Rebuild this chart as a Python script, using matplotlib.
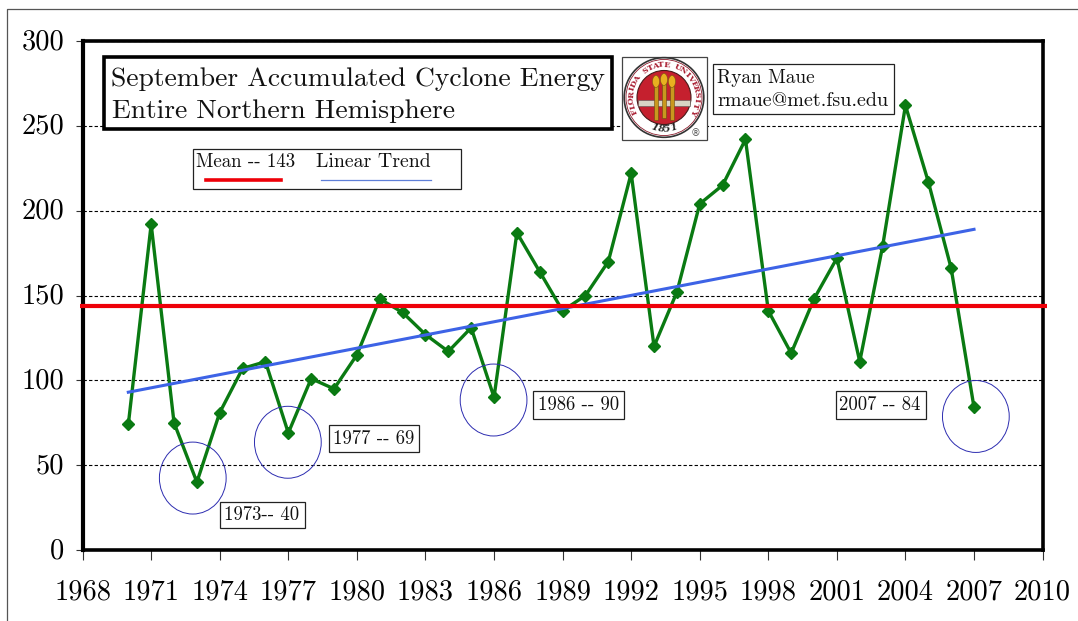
import numpy as np
import matplotlib
matplotlib.use('Agg')
import matplotlib.pyplot as plt
import matplotlib.patches as patches
from matplotlib.transforms import ScaledTranslation

plt.rcParams['font.family'] = ['cmr10', 'DejaVu Serif']
plt.rcParams['axes.unicode_minus'] = False

years = list(range(1970, 2008))
ace = [74, 192, 75, 40, 81, 107, 111, 69, 101, 95,
       115, 148, 140, 127, 117, 131, 90, 187, 164, 141,
       150, 170, 222, 120, 152, 204, 215, 242, 141, 116,
       148, 172, 111, 179, 262, 217, 166, 84]
mean_value = 143.8
trend_years = [1970, 2007]
trend_values = [93, 189]
x_ticks = list(range(1968, 2011, 3))
y_ticks = [0, 50, 100, 150, 200, 250, 300]

# circled low years: centre year, centre value
circle_years = [1972.82, 1976.98, 1985.98, 2007.08]
circle_values = [42.4, 63.5, 88.4, 78.7]

W, H = 1078, 621
fig = plt.figure(figsize=(W / 100, H / 100), dpi=100, facecolor='white')

# axes box in pixels
L, R, T, B = 82.6, 1042.6, 41, 550
ax = fig.add_axes([L / W, 1 - B / H, (R - L) / W, (B - T) / H])
ax.set_xlim(1968, 2010)
ax.set_ylim(0, 300)

ax.set_xticks(x_ticks)
ax.set_yticks(y_ticks)
ax.tick_params(axis='x', length=7, width=0.8, labelsize=20.5, pad=14, color='#333333')
ax.tick_params(axis='y', length=5, width=0.8, labelsize=20.5, pad=8, color='#333333')
# y labels sit a little high in the original
for t in ax.get_yticklabels():
    t.set_transform(t.get_transform() + ScaledTranslation(0, 2 / 100, fig.dpi_scale_trans))
for s in ax.spines.values():
    s.set_linewidth(2.6)
ax.spines['left'].set_linewidth(3)
ax.yaxis.grid(True, color='black', linestyle=(0, (3, 2)), linewidth=0.8)
ax.set_axisbelow(True)

ax.plot(years, ace, color='#0a7a12', lw=2.4, marker='D', ms=6.2, zorder=3)
ax.plot(trend_years, trend_values, color='#3d63e6', lw=2.2, zorder=4)
ax.plot([1967.9, 2010.2], [mean_value, mean_value], color='#ee0008', lw=3,
        zorder=5, clip_on=False, solid_capstyle='butt')

for cy, cv in zip(circle_years, circle_values):
    ax.add_patch(patches.Ellipse((cy, cv), 2.92, 42.4, fill=False,
                                 edgecolor='#2c2cb0', lw=0.7, zorder=6))

# overlay in pixel coordinates for the boxes and texts
ov = fig.add_axes([0, 0, 1, 1], facecolor='none')
ov.set_xlim(0, W)
ov.set_ylim(H, 0)
ov.axis('off')


def box(x0, y0, x1, y1, lw=0.9, ec='#222222'):
    ov.add_patch(patches.Rectangle((x0, y0), x1 - x0, y1 - y0, fc='white', ec=ec, lw=lw, zorder=7))


def label(x, y, s, size):
    ov.text(x, y, s, fontsize=size, ha='left', va='center', color='#111111', zorder=8)


# outer frame of the screenshot
ov.plot([7, 7, W], [H, 9, 9], color='#555555', lw=0.9)

box(104, 57, 612, 129, lw=2.6, ec='black')
label(111, 79, 'September Accumulated Cyclone Energy', 19.85)
label(112, 111, 'Entire Northern Hemisphere', 19.85)

box(192.5, 148.7, 460.7, 189.3)
label(196, 162, 'Mean -- 143', 13.6)
label(316, 162, 'Linear Trend', 14.3)
ov.plot([206, 281], [180, 180], color='#ee0008', lw=2.6, zorder=8)
ov.plot([321, 431], [180, 180], color='#5f7fd8', lw=0.9, zorder=8)

box(713.3, 63.7, 893.8, 114.3)
label(717, 78, 'Ryan Maue', 13.9)
label(717, 101, 'rmaue@met.fsu.edu', 14.5)

box(219.7, 501.7, 305, 528.3)
label(224, 515.5, '1973-- 40', 13.5)
box(328.9, 425.3, 419.4, 452.3)
label(333, 439.5, '1977 -- 69', 13.5)
box(533.4, 391.3, 624, 418.7)
label(538, 405.5, '1986 -- 90', 13.5)
box(835.5, 391.3, 925.7, 418.7)
label(839, 405.5, '2007 -- 84', 13.5)

# university seal
box(622.4, 56.5, 707, 140, ec='#444444')
cx, cy = 664, 97.5
ov.add_patch(patches.Circle((cx, cy), 39.8, fc='white', ec='#333333', lw=1.2, zorder=8))
ov.add_patch(patches.Circle((cx, cy), 38, fc='white', ec='#8a1c2c', lw=0.6, zorder=8))
ov.add_patch(patches.Circle((cx, cy), 27, fc='#c5202e', ec='#4a1a1a', lw=0.8, zorder=8))
ring = 'FLORIDA STATE UNIVERSITY'
angles = np.linspace(205, -25, len(ring))
for ch, a in zip(ring, angles):
    rad = np.deg2rad(a)
    ov.text(cx + 32.5 * np.cos(rad), cy - 32.5 * np.sin(rad), ch, fontsize=5.8, color='#a81c30',
            rotation=a - 90, ha='center', va='center', zorder=9, family='DejaVu Serif',
            fontweight='bold')
for ch, a in zip('1851', [-108, -96, -84, -72]):
    rad = np.deg2rad(a)
    ov.text(cx + 32 * np.cos(rad), cy - 32 * np.sin(rad), ch, fontsize=7, color='#222222',
            rotation=a + 90, ha='center', va='center', zorder=9, family='DejaVu Serif',
            fontweight='bold', style='italic')
# torches and banner
ov.add_patch(patches.Rectangle((cx - 26, cy + 2), 52, 6, fc='#d8d4c4', ec='#555555', lw=0.4, zorder=9))
for dx, top in zip([-8, 0, 8], [-20, -22, -20]):
    ov.add_patch(patches.Rectangle((cx + dx - 2, cy + top + 8), 4, 34, fc='#c8981e', ec='#6a4a10', lw=0.4, zorder=10))
    ov.add_patch(patches.Ellipse((cx + dx, cy + top + 4), 7, 12, fc='#e8b020', ec='#7a5a10', lw=0.4, zorder=10))
ov.text(695.5, 133, '\u00ae', fontsize=7, color='#555555', ha='center', va='center', zorder=9,
        family='DejaVu Sans')

fig.savefig('out.png', dpi=100, facecolor='white')
